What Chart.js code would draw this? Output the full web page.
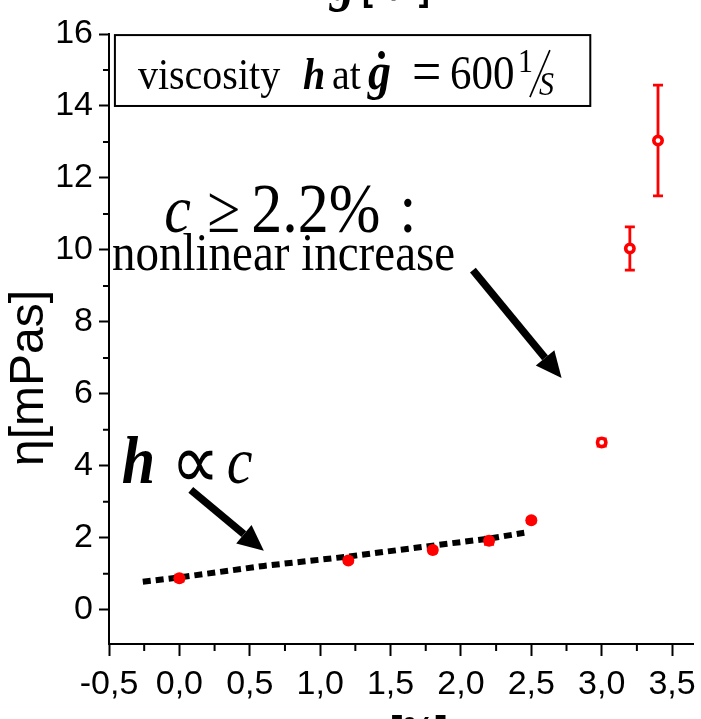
<!DOCTYPE html>
<html><head><meta charset="utf-8">
<script src="https://cdn.jsdelivr.net/npm/chart.js@4/dist/chart.umd.min.js"></script>
<style>html,body{margin:0;padding:0;background:#fff}</style>
</head><body>
<canvas id="c" width="701" height="719"></canvas>
<script>
// ---- data ----
const concentration = [0.0, 1.2, 1.8, 2.2, 2.5, 3.0, 3.2, 3.4];
const viscosity     = [0.88, 1.37, 1.66, 1.92, 2.49, 4.65, 10.04, 13.04];
const viscosityErr  = [0.08, 0.06, 0.06, 0.10, 0.06, 0.10, 0.60, 1.54];
const solidCount = 5; // first points drawn filled, the rest open
const fitX = [-0.26, 0.0, 0.6, 1.2, 1.75, 2.2, 2.45];
const fitY = [0.78, 0.90, 1.22, 1.48, 1.76, 1.98, 2.14];
const xTicks = [-0.5, 0, 0.5, 1, 1.5, 2, 2.5, 3, 3.5];
const xTickLabels = ['-0,5','0,0','0,5','1,0','1,5','2,0','2,5','3,0','3,5'];
const yTicks = [0, 2, 4, 6, 8, 10, 12, 14, 16];
const yTickLabels = ['0','2','4','6','8','10','12','14','16'];
const xMinor = [-0.25, 0.25, 0.75, 1.25, 1.75, 2.25, 2.75, 3.25];
const yMinor = [1, 3, 5, 7, 9, 11, 13, 15];
// annotation anchors (data units)
const boxCorners = {x0: -0.458, y0: 15.97, x1: 2.919, y1: 14.0};
const arrows = [
  {x0: 2.085, y0: 9.44, x1: 2.715, y1: 6.44},
  {x0: 0.081, y0: 3.33, x1: 0.60, y1: 1.64}
];
const labelC = {x: -0.108, y: 10.5};
const labelNonlin = {x: -0.479, y: 9.44};
const labelH = {x: -0.409, y: 3.53};

const SERIF = '"Liberation Serif", "Times New Roman", serif';
const SANS = '"Liberation Sans", Arial, sans-serif';
const STRETCH = 1.13;

const pts = concentration.map((x, i) => ({x, y: viscosity[i]}));
const fitPts = fitX.map((x, i) => ({x, y: fitY[i]}));

function runs(ctx, x, y, list) {
  ctx.textAlign = 'left';
  ctx.textBaseline = 'alphabetic';
  for (const r of list) {
    ctx.save();
    ctx.translate(x + r.dx, y + (r.dy || 0));
    ctx.scale(1, STRETCH);
    ctx.font = r.f;
    ctx.fillText(r.t, 0, 0);
    ctx.restore();
  }
}

const annot = {
  id: 'annot',
  beforeDatasetsDraw(chart) {
    const {ctx, scales: {x, y}} = chart;
    ctx.save();
    ctx.strokeStyle = '#ff0000';
    ctx.lineWidth = 2.8;
    concentration.forEach((cv, i) => {
      const px = x.getPixelForValue(cv);
      const pTop = y.getPixelForValue(viscosity[i] + viscosityErr[i]);
      const pBot = y.getPixelForValue(viscosity[i] - viscosityErr[i]);
      ctx.beginPath();
      ctx.moveTo(px, pTop); ctx.lineTo(px, pBot);
      ctx.moveTo(px - 5, pTop); ctx.lineTo(px + 5, pTop);
      ctx.moveTo(px - 5, pBot); ctx.lineTo(px + 5, pBot);
      ctx.stroke();
    });
    ctx.restore();
  },
  afterDraw(chart) {
    const {ctx, scales: {x, y}, chartArea: ca} = chart;
    ctx.save();
    // minor ticks
    ctx.strokeStyle = '#000';
    ctx.lineWidth = 2;
    ctx.beginPath();
    xMinor.forEach(v => { const p = x.getPixelForValue(v); ctx.moveTo(p, ca.bottom); ctx.lineTo(p, ca.bottom + 7); });
    yMinor.forEach(v => { const p = y.getPixelForValue(v); ctx.moveTo(ca.left, p); ctx.lineTo(ca.left - 6, p); });
    ctx.stroke();

    // box
    const bx0 = x.getPixelForValue(boxCorners.x0), by0 = y.getPixelForValue(boxCorners.y0);
    const bx1 = x.getPixelForValue(boxCorners.x1), by1 = y.getPixelForValue(boxCorners.y1);
    ctx.fillStyle = '#fff';
    ctx.fillRect(bx0, by0, bx1 - bx0, by1 - by0);
    ctx.lineWidth = 2;
    ctx.strokeRect(bx0, by0, bx1 - bx0, by1 - by0);
    ctx.fillStyle = '#000';
    runs(ctx, bx0, by0 + 54, [
      {t: 'viscosity', f: '40px ' + SERIF, dx: 23},
      {t: 'h', f: 'italic bold 40px ' + SERIF, dx: 188},
      {t: 'at', f: '40px ' + SERIF, dx: 217},
      {t: 'ġ', f: 'italic bold 46px ' + SERIF, dx: 253},
      {t: '=', f: '52px ' + SERIF, dx: 297, dy: 2},
      {t: '600', f: '43px ' + SERIF, dx: 335},
      {t: '1', f: '30px ' + SERIF, dx: 403, dy: -17},
      {t: 'S', f: 'italic 30px ' + SERIF, dx: 424, dy: 6}
    ]);
    ctx.lineWidth = 1.6;
    ctx.beginPath();
    ctx.moveTo(bx0 + 415, by0 + 62); ctx.lineTo(bx0 + 435, by0 + 15);
    ctx.stroke();

    // c >= 2.2% :
    runs(ctx, x.getPixelForValue(labelC.x), y.getPixelForValue(labelC.y), [
      {t: 'c', f: 'italic 60px ' + SERIF, dx: 0},
      {t: '≥', f: '60px ' + SERIF, dx: 43},
      {t: '2.2%', f: '62px ' + SERIF, dx: 87},
      {t: ':', f: '62px ' + SERIF, dx: 235}
    ]);
    runs(ctx, x.getPixelForValue(labelNonlin.x), y.getPixelForValue(labelNonlin.y), [
      {t: 'nonlinear increase', f: '47px ' + SERIF, dx: 0}
    ]);
    runs(ctx, x.getPixelForValue(labelH.x), y.getPixelForValue(labelH.y), [
      {t: 'h', f: 'italic bold 60px ' + SERIF, dx: 0},
      {t: '∝', f: '68px ' + SERIF, dx: 49, dy: 5},
      {t: 'c', f: 'italic 58px ' + SERIF, dx: 105}
    ]);

    // arrows
    arrows.forEach(a => {
      const x0 = x.getPixelForValue(a.x0), y0 = y.getPixelForValue(a.y0);
      const x1 = x.getPixelForValue(a.x1), y1 = y.getPixelForValue(a.y1);
      const ang = Math.atan2(y1 - y0, x1 - x0);
      const hl = 26, hw = 12;
      const bxp = x1 - hl * Math.cos(ang), byp = y1 - hl * Math.sin(ang);
      ctx.lineWidth = 7.5;
      ctx.lineCap = 'butt';
      ctx.beginPath(); ctx.moveTo(x0, y0); ctx.lineTo(bxp, byp); ctx.stroke();
      ctx.beginPath();
      ctx.moveTo(x1, y1);
      ctx.lineTo(bxp + hw * Math.sin(ang), byp - hw * Math.cos(ang));
      ctx.lineTo(bxp - hw * Math.sin(ang), byp + hw * Math.cos(ang));
      ctx.closePath(); ctx.fill();
    });

    // axis titles
    ctx.save();
    ctx.translate(30, 378);
    ctx.rotate(-Math.PI / 2);
    ctx.textAlign = 'center';
    ctx.textBaseline = 'middle';
    ctx.font = '48px ' + SANS;
    ctx.fillText('η[mPas]', 0, 0);
    ctx.restore();
    runs(ctx, 0, 746, [
      {t: 'c', f: 'italic bold 44px ' + SERIF, dx: 366},
      {t: '[%]', f: 'bold 37px ' + SANS, dx: 390}
    ]);
    runs(ctx, 0, 0, [
      {t: 'ġ', f: 'italic bold 50px ' + SERIF, dx: 330},
      {t: '[1/s]', f: 'bold 33px ' + SANS, dx: 362}
    ]);
    ctx.restore();
  }
};

new Chart(document.getElementById('c'), {
  type: 'scatter',
  data: {
    datasets: [
      {
        data: pts.slice(0, solidCount),
        backgroundColor: '#ff0000', borderColor: '#ff0000',
        pointRadius: 6, borderWidth: 0
      },
      {
        data: pts.slice(solidCount),
        backgroundColor: '#ffffff', borderColor: '#ff0000',
        pointRadius: 4.2, borderWidth: 3.6
      },
      {
        data: fitPts, showLine: true,
        borderColor: '#000', borderWidth: 6, borderDash: [8, 5],
        pointRadius: 0, tension: 0
      }
    ]
  },
  options: {
    responsive: false,
    animation: false,
    events: [],
    layout: {padding: {top: 34, left: 0, right: 0, bottom: 0}},
    plugins: {legend: {display: false}, tooltip: {enabled: false}},
    scales: {
      x: {
        type: 'linear', min: -0.5, max: 3.65,
        afterBuildTicks: s => { s.ticks = xTicks.map(v => ({value: v})); },
        afterFit: s => { s.height = 75; s.paddingLeft = 0; s.paddingRight = 0; s.paddingTop = 0; s.paddingBottom = 0; },
        ticks: {
          callback: (v, i) => xTickLabels[i],
          color: '#000', font: {family: SANS, size: 34}, padding: 8, maxRotation: 0, autoSkip: false
        },
        grid: {drawOnChartArea: false, drawTicks: true, tickLength: 12, tickWidth: 2, tickColor: '#000'},
        border: {display: true, color: '#000', width: 2}
      },
      y: {
        type: 'linear', min: -0.95, max: 16,
        afterBuildTicks: s => { s.ticks = yTicks.map(v => ({value: v})); },
        afterFit: s => { s.width = 109; s.paddingLeft = 0; s.paddingRight = 0; s.paddingTop = 0; s.paddingBottom = 0; },
        ticks: {
          callback: (v, i) => yTickLabels[i],
          color: '#000', font: {family: SANS, size: 34}, padding: 6, autoSkip: false
        },
        grid: {drawOnChartArea: false, drawTicks: true, tickLength: 10, tickWidth: 2, tickColor: '#000'},
        border: {display: true, color: '#000', width: 2}
      }
    }
  },
  plugins: [annot]
});
</script>
</body></html>
